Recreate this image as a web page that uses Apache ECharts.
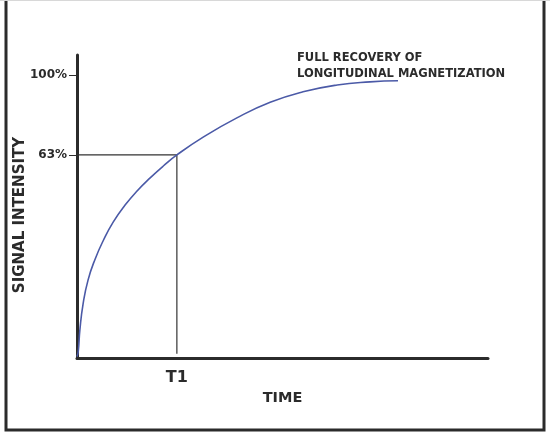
<!DOCTYPE html>
<html>
<head>
<meta charset="utf-8">
<script src="https://cdn.jsdelivr.net/npm/echarts@6/dist/echarts.min.js"></script>
<style>
  html, body { margin: 0; padding: 0; background: #fff; }
  #chart { width: 550px; height: 438px; }
</style>
</head>
<body>
<div id="chart"></div>
<script>
// recovery curve (time, signal)
var timeValues   = [0, 0.3, 0.7, 1.5, 2.7, 4.4, 6.4, 8.8, 11.7, 14.5, 17.8, 21.0, 24.3, 30.7, 38.9, 47.0, 55.0, 63.3, 71.3, 78.1];
var signalValues = [0.5, 2.2, 9.9, 19.3, 27.6, 34.9, 41.5, 48.0, 54.0, 58.8, 63.6, 67.8, 71.7, 78.0, 84.8, 90.3, 94.0, 96.4, 97.5, 97.9];

// T1 marker point
var t1Time = 24.3;
var t1Signal = 71.7;

// tick labels
var yTickValues = [71.7, 100];
var yTickLabels = ['63%', '100%'];
var xTickValues = [t1Time];
var xTickLabels = ['T1'];

var curveData = timeValues.map(function (t, i) { return [t, signalValues[i]]; });
var guideData = [[0, t1Signal], [t1Time, t1Signal], [t1Time, 1.5]];

var font = 'DejaVu Sans';
var dark = '#2b2b2b';

var myChart = echarts.init(document.getElementById('chart'));

myChart.setOption({
    backgroundColor: '#fff',
    animation: false,
    grid: { left: 77, right: 62, top: 55, bottom: 80 },
    xAxis: {
        type: 'value',
        min: 0,
        max: 100,
        name: 'TIME',
        nameLocation: 'middle',
        nameGap: 33,
        nameTextStyle: { fontFamily: font, fontWeight: 'bold', fontSize: 14.5, color: dark },
        axisLine: { lineStyle: { color: dark, width: 3 } },
        axisTick: { show: false },
        splitLine: { show: false },
        axisLabel: {
            customValues: xTickValues,
            margin: 12,
            fontFamily: font,
            fontWeight: 'bold',
            fontSize: 16,
            color: dark,
            formatter: function (v) {
                var i = xTickValues.indexOf(v);
                return i >= 0 ? xTickLabels[i] : '';
            }
        }
    },
    yAxis: {
        type: 'value',
        min: 0,
        max: 107,
        axisLine: { onZero: false, lineStyle: { color: dark, width: 3 } },
        axisTick: {
            customValues: yTickValues,
            length: 8,
            lineStyle: { color: dark, width: 1 }
        },
        splitLine: { show: false },
        axisLabel: {
            customValues: yTickValues,
            margin: 10,
            fontFamily: font,
            fontWeight: 'bold',
            fontSize: 12,
            color: dark,
            formatter: function (v) {
                var i = yTickValues.indexOf(v);
                return i >= 0 ? yTickLabels[i] : '';
            }
        }
    },
    graphic: [
        {   // frame round the figure
            type: 'polyline',
            shape: { points: [[6, 0], [6, 430], [544, 430], [544, 0]] },
            style: { stroke: dark, lineWidth: 3, fill: null }
        },
        {
            type: 'line',
            shape: { x1: 0, y1: 0.5, x2: 550, y2: 0.5 },
            style: { stroke: '#d8d8d8', lineWidth: 1 }
        },
        {
            type: 'text',
            x: 20,
            y: 215,
            rotation: Math.PI / 2,
            style: {
                text: 'SIGNAL INTENSITY',
                font: 'bold 15px "DejaVu Sans"',
                fill: dark,
                align: 'center',
                verticalAlign: 'middle'
            }
        },
        {
            type: 'text',
            left: 297,
            top: 50,
            style: {
                text: 'FULL RECOVERY OF\nLONGITUDINAL MAGNETIZATION',
                font: 'bold 11.5px "DejaVu Sans"',
                lineHeight: 16,
                fill: dark
            }
        }
    ],
    series: [
        {
            type: 'line',
            data: guideData,
            symbol: 'none',
            lineStyle: { color: '#333', width: 1.2 },
            z: 1
        },
        {
            type: 'line',
            data: curveData,
            smooth: 0.5,
            symbol: 'none',
            lineStyle: { color: '#4b5aa7', width: 1.6 },
            z: 2
        }
    ]
});
</script>
</body>
</html>
